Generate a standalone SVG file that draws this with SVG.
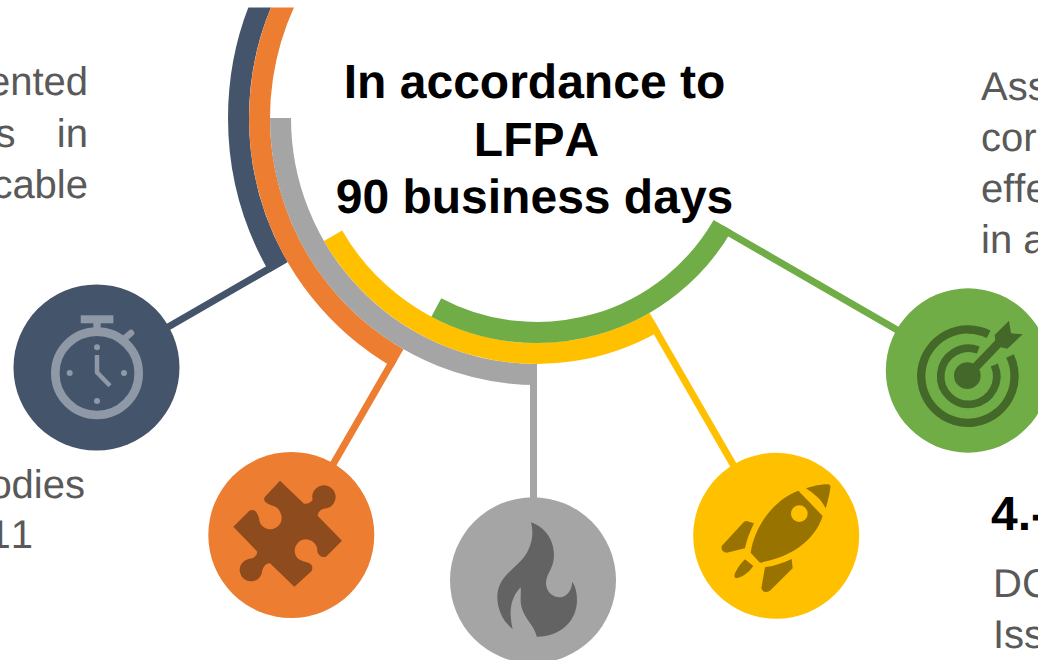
<svg xmlns="http://www.w3.org/2000/svg" width="1038" height="660" viewBox="0 0 1038 660">
<style>
text{text-rendering:geometricPrecision;font-kerning:none}
.arc{fill:none;stroke-width:21}
.con{fill:none;stroke-width:7}
.body{font-family:"Liberation Sans",Arial,sans-serif;font-size:40px;fill:#595959}
.bold{font-family:"Liberation Sans",Arial,sans-serif;font-size:48px;font-weight:700;fill:#000}
</style>
<defs><clipPath id="topClip"><rect x="0" y="7.5" width="1038" height="652.5"/></clipPath></defs>
<rect width="1038" height="660" fill="#fff"/>
<text class="body" x="88" y="95" text-anchor="end">ented</text>
<text class="body" x="15.500" y="146.700" text-anchor="end">s</text>
<text class="body" x="88" y="146.700" text-anchor="end">in</text>
<text class="body" x="88" y="198" text-anchor="end">cable</text>
<text class="body" x="85" y="497.700" text-anchor="end">odies</text>
<text class="body" x="33" y="548.300" text-anchor="end">11</text>
<text class="body" x="981" y="99.500">Ass</text>
<text class="body" x="981" y="150.500">cor</text>
<text class="body" x="981" y="201.500">effe</text>
<text class="body" x="981" y="252.500">in a</text>
<text class="bold" x="991" y="530">4.-</text>
<text class="body" x="993" y="597.300">DC</text>
<text class="body" x="993" y="648.300">Iss</text>
<g id="connectors">
<path class="con" stroke="#44546A" d="M285.850 259L154.250 335"/>
<path class="con" stroke="#ED7D31" d="M394 358.700L324 480"/>
<path class="con" stroke="#A5A5A5" d="M533.500 375V510"/>
<path class="con" stroke="#FFC000" d="M651.500 323.250L744 483.500"/>
<path class="con" stroke="#70AD47" d="M721.450 228.500L942.250 356"/>
</g>
<g id="arcs">
<g clip-path="url(#topClip)">
<path class="arc" stroke="#44546A" d="M278.500 267.250A298.500 298.500 0 0 1 278.500 -31.250"/>
<path class="arc" stroke="#ED7D31" d="M398.250 358.300A277.500 277.500 0 0 1 296.700 -20.750"/>
</g>
<path class="arc" stroke="#A5A5A5" d="M537 374.500A256.500 256.500 0 0 1 280.500 118"/>
<path class="arc" stroke="#FFC000" d="M333.050 235.750A235.500 235.500 0 0 0 654.750 321.950"/>
<path class="arc" stroke="#70AD47" d="M436.300 307.400A214.500 214.500 0 0 0 722.760 225.250"/>
</g>
<g id="title" text-anchor="middle">
<text class="bold" x="534.500" y="98.300">In accordance to</text>
<text class="bold" x="536.500" y="155.700">LFPA</text>
<text class="bold" x="534.500" y="213.300">90 business days</text>
</g>
<g id="node-stopwatch">
<circle cx="96.500" cy="367.500" r="83" fill="#44546A"/>
<g fill="#8F98A6">
<rect x="80.700" y="315.300" width="32.700" height="8"/>
<rect x="93.300" y="323" width="7.400" height="9"/>
<circle cx="97" cy="347.300" r="3"/><circle cx="69.700" cy="373" r="3"/><circle cx="124" cy="373" r="3"/><circle cx="97" cy="401" r="3"/>
</g>
<g fill="none" stroke="#8F98A6">
<circle cx="97" cy="373.300" r="41.700" stroke-width="8.600"/>
<path d="M124 339L131 333" stroke-width="6.500" stroke-linecap="round"/>
<path d="M97 355V372.300L110 385.700" stroke-width="4.500"/>
</g>
</g>
<g id="node-puzzle">
<circle cx="291.300" cy="535" r="83" fill="#ED7D31"/>
<path transform="translate(0 270) scale(.33333)" fill="#8E4B1D" d="M840 632L912 701Q925 704 938 690A35 35 0 1 1 980 715Q955 718 953 737L1026 812L978 860Q960 865 952 845A34 34 0 1 0 895 867Q905 873 925 878Q942 885 935 903L883 950L810 880Q795 878 787 900A34 34 0 1 1 745 867Q770 865 772 845L700 770L748 722Q768 712 777 745A34 34 0 1 0 842 730Q838 712 812 705Q785 695 795 680Z"/>
</g>
<g id="node-flame">
<circle cx="533" cy="580.300" r="83" fill="#A5A5A5"/>
<path transform="translate(430 440) scale(.33333)" fill="#636363" d="M303 247C345 262 372 300 372 345C372 385 348 400 348 430C348 455 368 472 388 472C408 472 425 455 427 425C437 440 441 460 441 480C441 540 395 590 320 590C315 555 272 530 272 480C272 465 273 452 272 442C250 465 232 500 248 567C220 545 202 510 202 470C202 420 240 395 270 365C300 335 315 290 303 247Z"/>
</g>
<g id="node-rocket">
<circle cx="776.200" cy="535.800" r="83" fill="#FFC000"/>
<g transform="translate(430 440) scale(.33333)" fill="#997300">
<path fill-rule="evenodd" d="M1105 152L1178 228C1165 270 1120 345 990 368L962 338C975 250 1040 175 1105 152ZM1133 221A25 25 0 1 0 1083 221A25 25 0 1 0 1133 221Z"/>
<path d="M1128 145C1150 137 1180 132 1195 133Q1203 135 1201 145C1198 165 1192 190 1187 205C1172 175 1150 160 1128 145Z"/>
<path d="M950 243L972 250C960 275 950 300 945 325L890 338Q872 335 875 318L938 250Q943 243 950 243Z"/>
<path d="M1085 357L1088 385L1020 452Q1000 463 994 445L1005 382C1035 378 1060 368 1085 357Z"/>
<path d="M945 358L970 378C955 400 935 412 918 415Q910 412 915 400C922 385 932 370 945 358Z"/>
</g>
</g>
<g id="node-target">
<circle cx="968" cy="370.500" r="82.200" fill="#70AD47"/>
<g transform="translate(860 270) scale(.33333)">
<g fill="none" stroke="#436829">
<path stroke-width="25" d="M386 193A140 140 0 1 0 450 258"/>
<path stroke-width="23" d="M355 240A84 84 0 1 0 403 285"/>
<path stroke-width="26" d="M322 317L430 205"/>
</g>
<circle cx="322" cy="317" r="40" fill="#436829"/>
<path fill="#436829" d="M447 152L453 190L488 193L442 236L408 228L404 195Z"/>
</g>
</g>
</svg>
